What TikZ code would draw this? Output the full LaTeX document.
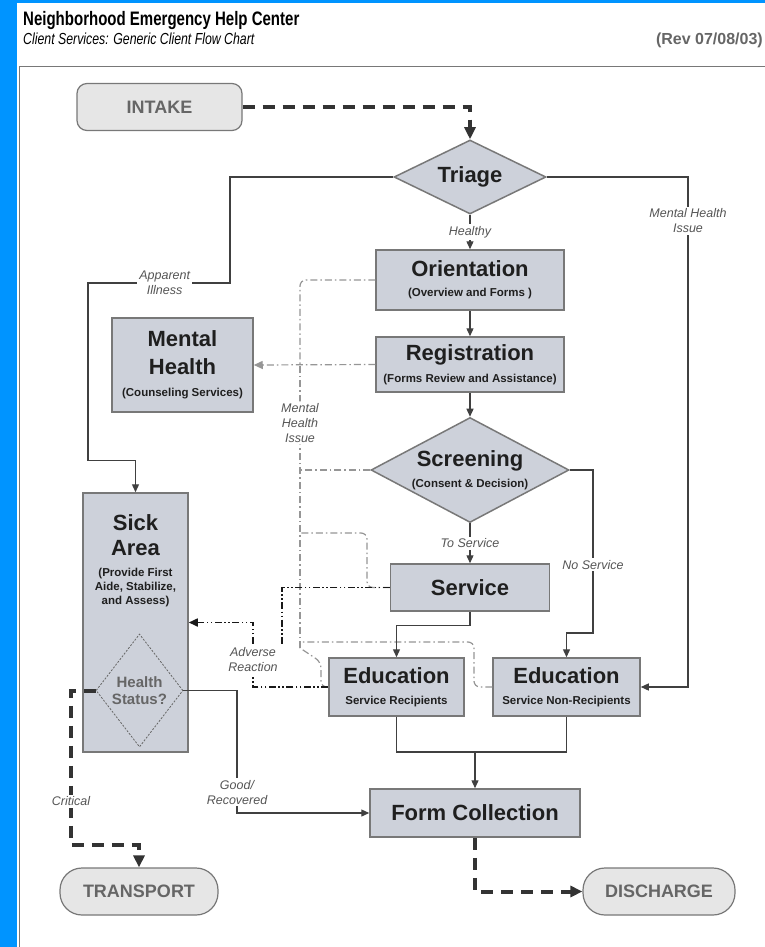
\documentclass[tikz,border=0pt]{standalone}
\usepackage{fontspec}
\setmainfont{Liberation Sans}
\newfontfamily\narrowfont[FakeStretch=0.77]{Liberation Sans}
\usetikzlibrary{shapes.geometric,arrows.meta,positioning}
\definecolor{bgblue}{RGB}{0,148,255}
\definecolor{boxfill}{RGB}{205,209,218}
\definecolor{boxline}{RGB}{120,120,120}
\definecolor{termfill}{RGB}{230,230,230}
\definecolor{termtext}{RGB}{102,102,102}
\definecolor{flowline}{RGB}{64,64,64}
\definecolor{mhgray}{RGB}{150,150,150}
\definecolor{notegray}{RGB}{85,85,85}
\newcommand{\bigtxt}{\fontsize{22}{27}\selectfont}
\newcommand{\subtxt}{\fontsize{11.5}{14}\selectfont}
\newcommand{\notetxt}{\fontsize{12.5}{15}\selectfont}

\begin{document}
\begin{tikzpicture}[x=1pt,y=-1pt]
        \tikzstyle{block}=[rectangle,draw=boxline,fill=boxfill,line width=1.5pt,align=center,inner sep=0pt,text=black!88,font=\bfseries\bigtxt]
        \tikzstyle{decision}=[diamond,draw=boxline,fill=boxfill,line width=1.5pt,align=center,inner sep=0pt,aspect=2,text=black!88,font=\bfseries\bigtxt]
        \tikzstyle{terminal}=[rectangle,rounded corners=10pt,draw=boxline,fill=termfill,line width=1.2pt,text=termtext,font=\bfseries\fontsize{18}{20}\selectfont]
        \tikzstyle{flow}=[draw=flowline,line width=1.3pt,-{Triangle[length=8pt,width=7pt]}]
        \tikzstyle{major}=[draw=black!80,line width=4pt,dash pattern=on 12pt off 8pt,-{Triangle[length=12pt,width=11pt]}]
        \tikzstyle{mhline}=[draw=mhgray,line width=1.2pt,dash pattern=on 7pt off 3pt on 1.5pt off 3pt,rounded corners=6pt]
        \tikzstyle{adverse}=[draw=black!90,line width=1.6pt,dash pattern=on 7pt off 2.5pt on 1.5pt off 2.5pt on 1.5pt off 2.5pt]
        \tikzstyle{note}=[fill=white,text=notegray,font=\itshape\notetxt,align=center,inner sep=2pt]

        % page frame
        \useasboundingbox (0,0) rectangle (765,947);
        \fill[bgblue] (0,0) rectangle (765,947);
        \fill[white] (17,3) rectangle (765,947);
        \draw[boxline,line width=1pt] (19.5,947) -- (19.5,67) -- (765,67);

        \node[anchor=base west,inner sep=0pt,font=\narrowfont\bfseries\fontsize{19.5}{22}\selectfont] (title) at (23,26) {Neighborhood Emergency Help Center};
        \node[anchor=base west,inner sep=0pt,font=\narrowfont\itshape\fontsize{16}{18}\selectfont] (subtitle) at (23,45) {Client Services: Generic Client Flow Chart};
        \node[anchor=base east,inner sep=0pt,text=termtext,font=\bfseries\fontsize{16}{18}\selectfont] (rev) at (763,45) {(Rev 07/08/03)};

        \node[terminal,minimum width=165pt,minimum height=47pt] (intake) at (159.5,107) {INTAKE};
        \node[decision,minimum width=152pt,minimum height=74pt] (triage) at (470,177) {Triage};
        \node[block,minimum width=188pt,minimum height=60pt] (orient) at (470,280) {Orientation\\[-7pt]{\subtxt (Overview and Forms )}};
        \node[block,minimum width=188pt,minimum height=55pt] (regist) at (470,364.5) {Registration\\[-5pt]{\subtxt (Forms Review and Assistance)}};
        \node[block,minimum width=141pt,minimum height=94pt] (mental) at (182.5,365) {Mental\\[1pt]Health\\[-5pt]{\subtxt (Counseling Services)}};
        \node[decision,minimum width=198pt,minimum height=105pt] (screen) at (470,470) {Screening\\[-6pt]{\subtxt (Consent \& Decision)}};
        \node[block,minimum width=159pt,minimum height=47pt] (service) at (470,587.5) {Service};
        \node[block,minimum width=135pt,minimum height=58pt] (edusr) at (396.5,687) {Education\\[-6pt]{\subtxt Service Recipients}};
        \node[block,minimum width=147pt,minimum height=58pt] (edunr) at (566.5,687) {Education\\[-6pt]{\subtxt Service Non-Recipients}};
        \node[block,minimum width=105pt,minimum height=259pt] (sick) at (135.5,622.5) {};
        \node[align=center,inner sep=0pt,text=black!88,font=\bfseries\bigtxt] (sicktxt) at (135.5,561) {Sick\\[-2pt]Area\\[-6pt]{\subtxt (Provide First}\\[-13pt]{\subtxt Aide, Stabilize,}\\[-13pt]{\subtxt and Assess)}};
        \node[decision,fill=none,draw=black!60,line width=0.8pt,dash pattern=on 2pt off 1.5pt,aspect=0.77,minimum width=87pt,minimum height=113pt,text=termtext,font=\bfseries\fontsize{15}{17}\selectfont] (health) at (139.5,690.5) {Health\\Status?};
        \node[block,minimum width=210pt,minimum height=48pt] (formc) at (475,813) {Form Collection};
        \node[terminal,rounded corners=22pt,minimum width=158pt,minimum height=47pt] (transport) at (139,891.5) {TRANSPORT};
        \node[terminal,rounded corners=22pt,minimum width=152pt,minimum height=47pt] (discharge) at (659,891.5) {DISCHARGE};

        % mental health returns
        \coordinate (mhtop) at (300,365);
        \coordinate (mhsv) at (300,533);
        \coordinate (mhnr) at (300,642);
        \coordinate (mhlow) at (300,648);
        \draw[mhline] (mhlow) -- node[note,pos=0.795]{Mental\\Health\\Issue} (mhtop);
        \draw[mhline,-{Triangle[length=9pt,width=8pt]}] (regist.west) -- (mental.east);
        \draw[mhline] (orient.west) -| (mhtop);
        \draw[mhline] (screen.west) -- (screen.west -| mhtop);
        \draw[mhline] (service.west) -| (367,533) -- (mhsv);
        \draw[mhline] (edunr.west) -| (474,642) -- (mhnr);
        \draw[mhline] (edusr.west) -| (321,662) -- (mhlow);

        % main flow
        \draw[major] (intake.east) -| (triage.north);
        \draw[flow] (triage.south) -- node[note]{Healthy} (orient.north);
        \draw[flow] (orient) -- (regist);
        \draw[flow] (regist) -- (screen);
        \draw[flow] (screen.south) -- node[note]{To Service} (service.north);
        \draw[flow] (service.south) -- ++(0,14) -| (edusr.north);
        \coordinate (jn) at (475,752);
        \draw[flow,-] (edusr.south) |- (jn) -| (edunr.south);
        \draw[flow] (jn) -- (formc.north);
        \draw[major] (formc.south) |- (discharge.west);

        % triage branches
        \draw[flow] (triage.west) -| (230,283) -- node[note,pos=0.46]{Apparent\\Illness} (88,283) |- ([yshift=32pt]sick.north) -- (sick.north);
        \coordinate (mhcol) at (688,0);
        \draw[flow] (triage.east) -| node[note,pos=0.543]{Mental Health\\Issue} (edunr.east -| mhcol) -- (edunr.east);
        \coordinate (nscol) at (593,633);
        \draw[flow] (screen.east) -| node[note,pos=0.79]{No Service} (nscol) -| (edunr.north);

        % sick area exits
        \coordinate (gdcol) at (237,0);
        \draw[flow] (health.east) -| node[note,pos=0.915]{Good/\\Recovered} (formc.west -| gdcol) -- (formc.west);
        \coordinate (crcol) at (71,845);
        \draw[major] (health.west) -| node[note,pos=0.858]{Critical} (crcol) -| (transport.north);

        % adverse reaction
        \node[note,fill=none,inner sep=4pt] (adv) at (253,660) {Adverse\\Reaction};
        \draw[adverse] (service.west) -| (adv.north east);
        \draw[adverse] (edusr.west) -| (adv.south);
        \draw[adverse,-{Triangle[length=9pt,width=8pt]}] (adv.north) |- (sick.east);
\end{tikzpicture}
\end{document}
